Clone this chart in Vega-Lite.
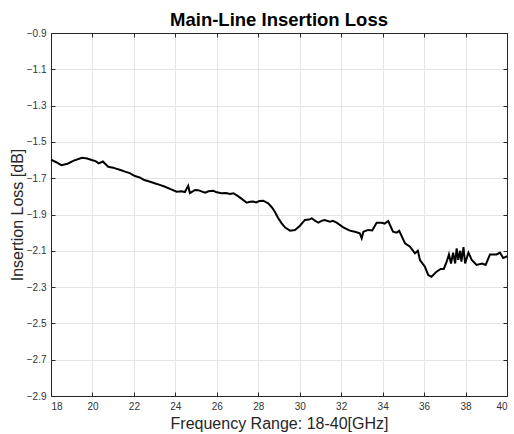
{
  "$schema": "https://vega.github.io/schema/vega-lite/v6.json",
  "width": 456,
  "height": 363,
  "autosize": "none",
  "padding": {"left": 51, "top": 33, "right": 7, "bottom": 38},
  "background": "white",
  "config": {
    "font": "Liberation Sans",
    "view": {"stroke": "#262626", "strokeWidth": 1},
    "axis": {
      "domainColor": "#262626",
      "tickColor": "#262626",
      "gridColor": "#e4e4e4",
      "labelColor": "#333333",
      "titleColor": "#262626",
      "labelFont": "Liberation Sans",
      "titleFont": "Liberation Sans",
      "labelFontSize": 10,
      "titleFontSize": 16,
      "titleFontWeight": "normal",
      "tickSize": -4,
      "labelPadding": 9
    }
  },
  "title": {
    "text": "Main-Line Insertion Loss",
    "fontSize": 18.5,
    "fontWeight": "bold",
    "font": "Liberation Sans",
    "color": "#000000",
    "offset": -1,
    "anchor": "middle"
  },
  "data": {"values": [
    {"f":18.0,"loss":-1.598},{"f":18.25,"loss":-1.612},{"f":18.5,"loss":-1.628},{"f":18.8,"loss":-1.62},
    {"f":19.1,"loss":-1.603},{"f":19.5,"loss":-1.588},{"f":19.75,"loss":-1.592},{"f":19.96,"loss":-1.6},
    {"f":20.15,"loss":-1.606},{"f":20.3,"loss":-1.618},{"f":20.5,"loss":-1.608},{"f":20.76,"loss":-1.637},
    {"f":21.0,"loss":-1.642},{"f":21.1,"loss":-1.646},{"f":21.35,"loss":-1.655},{"f":21.57,"loss":-1.664},
    {"f":21.8,"loss":-1.672},{"f":22.05,"loss":-1.688},{"f":22.3,"loss":-1.697},{"f":22.5,"loss":-1.71},
    {"f":22.75,"loss":-1.718},{"f":23.0,"loss":-1.728},{"f":23.25,"loss":-1.737},{"f":23.5,"loss":-1.747},
    {"f":23.8,"loss":-1.762},{"f":24.06,"loss":-1.774},{"f":24.3,"loss":-1.772},{"f":24.46,"loss":-1.776},
    {"f":24.62,"loss":-1.742},{"f":24.7,"loss":-1.782},{"f":24.95,"loss":-1.765},{"f":25.1,"loss":-1.766},
    {"f":25.43,"loss":-1.78},{"f":25.6,"loss":-1.772},{"f":25.83,"loss":-1.769},{"f":26.0,"loss":-1.778},
    {"f":26.23,"loss":-1.783},{"f":26.45,"loss":-1.782},{"f":26.63,"loss":-1.787},{"f":26.8,"loss":-1.783},
    {"f":27.04,"loss":-1.8},{"f":27.25,"loss":-1.818},{"f":27.44,"loss":-1.835},{"f":27.6,"loss":-1.83},
    {"f":27.76,"loss":-1.829},{"f":27.9,"loss":-1.834},{"f":28.05,"loss":-1.826},{"f":28.24,"loss":-1.824},
    {"f":28.48,"loss":-1.838},{"f":28.65,"loss":-1.86},{"f":28.8,"loss":-1.885},{"f":28.95,"loss":-1.918},
    {"f":29.13,"loss":-1.949},{"f":29.3,"loss":-1.972},{"f":29.53,"loss":-1.989},{"f":29.77,"loss":-1.985},
    {"f":30.0,"loss":-1.963},{"f":30.25,"loss":-1.93},{"f":30.45,"loss":-1.928},{"f":30.58,"loss":-1.921},
    {"f":30.75,"loss":-1.935},{"f":30.9,"loss":-1.945},{"f":31.05,"loss":-1.935},{"f":31.2,"loss":-1.93},
    {"f":31.46,"loss":-1.94},{"f":31.6,"loss":-1.935},{"f":31.78,"loss":-1.945},{"f":32.1,"loss":-1.971},
    {"f":32.42,"loss":-1.989},{"f":32.66,"loss":-1.995},{"f":32.9,"loss":-2.004},{"f":32.99,"loss":-2.031},
    {"f":33.07,"loss":-1.995},{"f":33.3,"loss":-1.985},{"f":33.5,"loss":-1.988},{"f":33.71,"loss":-1.945},
    {"f":33.95,"loss":-1.945},{"f":34.1,"loss":-1.95},{"f":34.27,"loss":-1.936},{"f":34.5,"loss":-1.995},
    {"f":34.68,"loss":-2.0},{"f":34.8,"loss":-1.99},{"f":35.08,"loss":-2.059},{"f":35.32,"loss":-2.077},
    {"f":35.56,"loss":-2.114},{"f":35.7,"loss":-2.1},{"f":35.8,"loss":-2.151},{"f":36.04,"loss":-2.188},
    {"f":36.2,"loss":-2.233},{"f":36.36,"loss":-2.243},{"f":36.6,"loss":-2.215},{"f":36.8,"loss":-2.2},
    {"f":36.95,"loss":-2.2},{"f":37.09,"loss":-2.16},{"f":37.2,"loss":-2.12},{"f":37.3,"loss":-2.17},
    {"f":37.4,"loss":-2.11},{"f":37.5,"loss":-2.17},{"f":37.57,"loss":-2.087},{"f":37.65,"loss":-2.15},
    {"f":37.74,"loss":-2.1},{"f":37.8,"loss":-2.16},{"f":37.9,"loss":-2.08},{"f":37.98,"loss":-2.17},
    {"f":38.14,"loss":-2.11},{"f":38.3,"loss":-2.15},{"f":38.53,"loss":-2.178},{"f":38.8,"loss":-2.17},
    {"f":38.97,"loss":-2.178},{"f":39.18,"loss":-2.12},{"f":39.5,"loss":-2.12},{"f":39.66,"loss":-2.11},
    {"f":39.82,"loss":-2.14},{"f":40.0,"loss":-2.13}
  ]},
  "layer": [
    {
      "mark": {"type": "line", "color": "#000000", "strokeWidth": 2},
      "encoding": {
        "x": {"field": "f", "type": "quantitative",
          "scale": {"domain": [18, 40], "nice": false, "zero": false},
          "axis": {"orient": "bottom", "values": [18,20,22,24,26,28,30,32,34,36,38,40], "format": "d", "title": "Frequency Range: 18-40[GHz]", "titlePadding": 4}},
        "y": {"field": "loss", "type": "quantitative",
          "scale": {"domain": [-2.9, -0.9], "nice": false, "zero": false},
          "axis": {"orient": "left", "values": [-2.9,-2.7,-2.5,-2.3,-2.1,-1.9,-1.7,-1.5,-1.3,-1.1,-0.9], "format": ".1f", "title": "Insertion Loss [dB]", "titlePadding": 1}}
      }
    },
    {
      "mark": {"type": "line", "opacity": 0},
      "encoding": {
        "x": {"field": "f", "type": "quantitative",
          "scale": {"domain": [18, 40], "nice": false, "zero": false},
          "axis": {"orient": "top", "values": [18,20,22,24,26,28,30,32,34,36,38,40], "labels": false, "grid": false, "title": null}},
        "y": {"field": "loss", "type": "quantitative",
          "scale": {"domain": [-2.9, -0.9], "nice": false, "zero": false},
          "axis": {"orient": "right", "values": [-2.9,-2.7,-2.5,-2.3,-2.1,-1.9,-1.7,-1.5,-1.3,-1.1,-0.9], "labels": false, "grid": false, "title": null}}
      }
    }
  ],
  "resolve": {"axis": {"x": "independent", "y": "independent"}}
}
